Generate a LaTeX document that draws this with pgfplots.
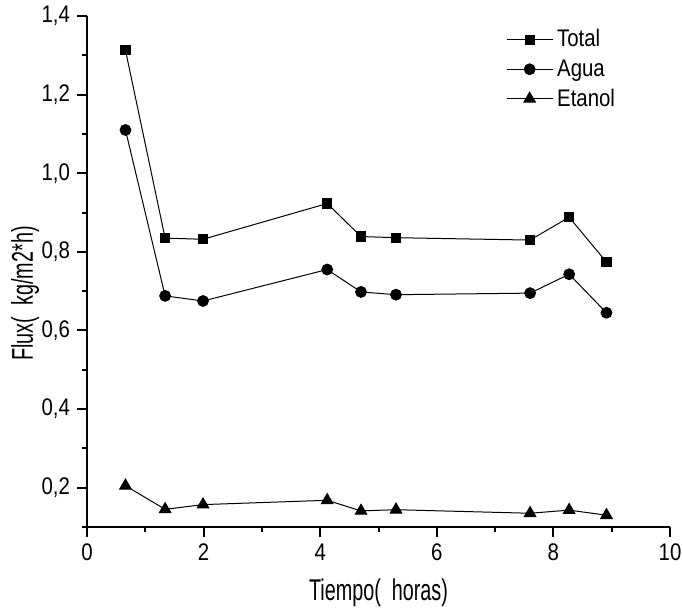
\documentclass[border=0pt]{standalone}
\usepackage{pgfplots}
\pgfplotsset{compat=1.18}
\usepackage{fontspec}
\setmainfont[FakeStretch=0.85]{Liberation Sans}
\newfontfamily\labelfont[FakeStretch=0.66]{Liberation Sans}

% Permeate flux over time: total, water and ethanol
\pgfplotstableread{
t     total  agua   etanol
0.66  1.313  1.110  0.205
1.34  0.835  0.688  0.145
1.99  0.832  0.675  0.157
4.12  0.923  0.755  0.168
4.70  0.839  0.698  0.141
5.30  0.836  0.691  0.144
7.60  0.830  0.695  0.135
8.27  0.888  0.743  0.143
8.91  0.774  0.645  0.130
}\fluxdata

\begin{document}
\begin{tikzpicture}[font=\fontsize{12}{14}\selectfont]
\useasboundingbox (-43.5pt,-42pt) rectangle (298pt,263.5pt);
\begin{axis}[
  scale only axis,
  width=291.5pt, height=255.5pt,
  xmin=0, xmax=10, ymin=0.1, ymax=1.4,
  axis x line*=bottom, axis y line*=left,
  axis line style={line width=1pt},
  every tick/.style={black, line width=1pt},
  tick align=outside,
  major tick length=5pt, minor tick length=2.5pt,
  xtick={0,2,4,6,8,10},
  minor xtick={1,3,5,7,9},
  ytick={0.2,0.4,0.6,0.8,1.0,1.2,1.4},
  minor ytick={0.1,0.3,0.5,0.7,0.9,1.1,1.3},
  /pgf/number format/assume math mode=true,
  yticklabel style={/pgf/number format/.cd, use comma, fixed, fixed zerofill, precision=1},
  tick label style={font=\fontsize{12}{14}\selectfont},
  xlabel={Tiempo( \ horas)},
  ylabel={Flux( \ kg/m2*h)},
  label style={font=\labelfont\fontsize{15}{17}\selectfont},
  x label style={at={(axis description cs:0.5,-0.129)}, anchor=center},
  y label style={at={(axis description cs:-0.106,0.457)}, anchor=center},
  legend style={at={(axis description cs:0.708,0.99)}, anchor=north west,
    draw=none, fill=none, font=\fontsize{12}{14}\selectfont, row sep=0.8pt},
  legend cell align=left,
  legend image code/.code={
    \draw[mark repeat=2, mark phase=2] plot coordinates {(0pt,0pt) (11.5pt,0pt) (23pt,0pt)};
  },
  every axis plot/.append style={black, line width=0.5pt},
]
\addplot[mark=square*, mark size=2.3pt, mark options={solid, fill=black}] table[x=t, y=total] {\fluxdata};
\addlegendentry{Total}
\addplot[mark=*, mark size=2.7pt, mark options={solid, fill=black}] table[x=t, y=agua] {\fluxdata};
\addlegendentry{Agua}
\addplot[mark=triangle*, mark size=3.3pt, mark options={solid, fill=black}] table[x=t, y=etanol] {\fluxdata};
\addlegendentry{Etanol}
\end{axis}
\end{tikzpicture}
\end{document}
